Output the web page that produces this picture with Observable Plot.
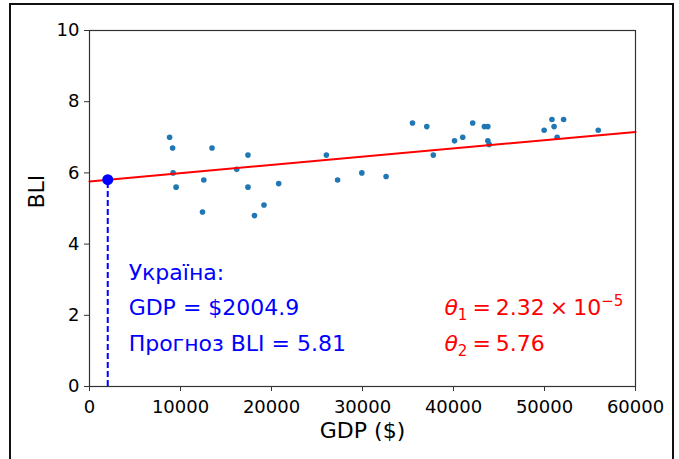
<!DOCTYPE html>
<html><head><meta charset="utf-8">
<script src="https://cdn.jsdelivr.net/npm/d3@7"></script>
<script src="https://cdn.jsdelivr.net/npm/@observablehq/plot@0.6"></script>
<style>
body{margin:0;background:#fff;}
#wrap{position:relative;width:679px;height:459px;overflow:hidden;background:#fff;}
#border{position:absolute;left:9px;top:3px;width:661px;height:490px;border:2px solid #111;pointer-events:none;}
#wrap svg{position:absolute;left:0;top:0;}
</style></head><body>
<div id="wrap"><div id="border"></div></div>
<script>
// Scatter data (GDP per capita, Better Life Index)
const gdp = [8802, 9135, 9183, 9516, 12418, 12561, 13465, 16177, 17414, 17414, 18128, 19175, 20793,
             26026, 27263, 29928, 32592, 35495, 37065, 37779, 40110, 41014, 42108, 43393, 43774,
             43774, 43917, 49960, 50817, 51054, 51388, 52100, 55906];
const bli = [7.0, 6.7, 6.0, 5.6, 4.9, 5.8, 6.7, 6.1, 6.5, 5.6, 4.8, 5.1, 5.7,
             6.5, 5.8, 6.0, 5.9, 7.4, 7.3, 6.5, 6.9, 7.0, 7.4, 7.3, 7.3,
             6.9, 6.8, 7.2, 7.5, 7.3, 7.0, 7.5, 7.2];
// Ukraine prediction
const ukGdp = 2004.9;
const ukBli = 5.81;
// Model parameters
const theta1 = 2.32e-5;
const theta2 = 5.76;
const lineX = [0, 60000];
// Ticks
const xTicks = [0, 10000, 20000, 30000, 40000, 50000, 60000];
const yTicks = [0, 2, 4, 6, 8, 10];
// Annotation texts
const ukLabels = ["Україна:", "GDP = $2004.9", "Прогноз BLI = 5.81"];
const ukLabelY = [3, 2, 1];
const thetaSub = ["1", "2"];
const thetaVal = ["2.32 × 10", "5.76"];
const thetaExp = ["−5", ""];
const thetaLabelY = [2, 1];

const points = gdp.map((g, i) => ({gdp: g, bli: bli[i]}));
const fitLine = lineX.map(x => ({gdp: x, bli: theta2 + theta1 * x}));
const uk = [{gdp: ukGdp, bli: ukBli}];

const FONT = "DejaVu Sans, sans-serif";

const chart = Plot.plot({
  width: 679,
  height: 459,
  marginLeft: 89,
  marginRight: 44,
  marginTop: 30,
  marginBottom: 73,
  style: {fontFamily: FONT, fontSize: "18px", color: "#000", background: "transparent", overflow: "visible"},
  x: {domain: [0, 60000]},
  y: {domain: [0, 10]},
  marks: [
    Plot.axisX({ticks: xTicks, tickFormat: d => String(d), tickSize: 5, tickPadding: 9, label: null, fontSize: 18, stroke: "#333"}),
    Plot.axisY({ticks: yTicks, tickFormat: d => String(d), tickSize: 5, tickPadding: 5, label: null, fontSize: 18, stroke: "#333"}),
    Plot.text(["GDP ($)"], {frameAnchor: "bottom", dy: 51, fontSize: 22, fill: "#000"}),
    Plot.text(["BLI"], {frameAnchor: "left", dx: -53, rotate: -90, fontSize: 22, fill: "#000"}),
    Plot.dot(points, {x: "gdp", y: "bli", r: 2.8, fill: "#1f77b4", stroke: "none"}),
    Plot.line(fitLine, {x: "gdp", y: "bli", stroke: "#ff0000", strokeWidth: 2}),
    Plot.ruleX(uk, {x: "gdp", y1: 0, y2: "bli", stroke: "#0000ff", strokeWidth: 2, strokeDasharray: "6,3"}),
    Plot.dot(uk, {x: "gdp", y: "bli", r: 5.5, fill: "#0000ff", stroke: "none"}),
    Plot.text(ukLabels, {x: () => 4300, y: (d, i) => ukLabelY[i], text: d => d, textAnchor: "start", lineAnchor: "bottom", fontSize: 22, fill: "#0000ff"}),
    Plot.text(thetaLabelY, {x: () => 39000, y: d => d, text: (d, i) => "θ" + thetaSub[i], textAnchor: "start", lineAnchor: "bottom", fontSize: 22, fill: "#ff0000", className: "theta-lbl"}),
    Plot.frame({stroke: "#333", strokeWidth: 1.2})
  ]
});

// Rich math-like formatting for the θ labels
d3.select(chart).selectAll(".theta-lbl text").each(function(_, i) {
  const t = d3.select(this);
  t.text(null).attr("word-spacing", "-2px");
  t.append("tspan").attr("font-style", "italic").text("θ");
  t.append("tspan").attr("font-size", 15).attr("dy", 5).text(thetaSub[i]);
  t.append("tspan").attr("dy", -5).text(" = " + thetaVal[i]);
  if (thetaExp[i]) t.append("tspan").attr("font-size", 15).attr("dy", -9).text(thetaExp[i]);
});

document.getElementById("wrap").appendChild(chart);
</script>
</body></html>
